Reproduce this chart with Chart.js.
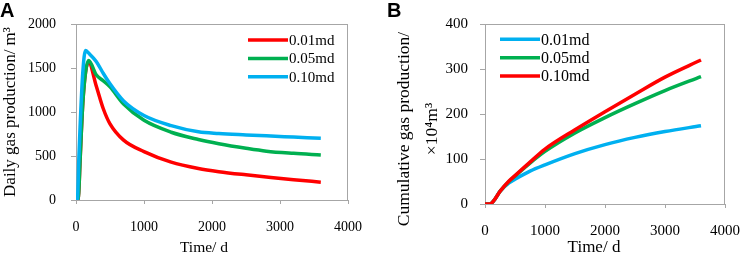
<!DOCTYPE html>
<html>
<head>
<meta charset="utf-8">
<script src="https://cdn.jsdelivr.net/npm/chart.js@4"></script>
<style>
  body { margin: 0; background: #fff; }
  .panel { position: absolute; top: 0; width: 377px; height: 257px; }
</style>
</head>
<body>
<div class="panel" style="left:0"><canvas id="chartA" width="377" height="257"></canvas></div>
<div class="panel" style="left:377px"><canvas id="chartB" width="377" height="257"></canvas></div>
<script>
// Panel A: daily gas production (m3) against time (d)
const daysA = [0, 20, 40, 60, 100, 140, 185, 300, 400, 500, 700, 1000, 1400, 1800, 2100, 2500, 2800, 3200, 3600];
const dailyK001 = [0, 0, 80, 450, 1100, 1450, 1565, 1290, 1040, 865, 680, 550, 430, 358, 322, 286, 262, 231, 203];
const dailyK005 = [0, 0, 80, 450, 1100, 1450, 1585, 1420, 1355, 1285, 1090, 905, 770, 688, 640, 588, 555, 530, 511];
const dailyK010 = [0, 0, 430, 830, 1450, 1700, 1670, 1572, 1440, 1320, 1125, 960, 845, 775, 756, 740, 729, 715, 701];

// Panel B: cumulative gas production (x10^4 m3) against time (d)
const daysB = [0, 80, 150, 250, 400, 500, 750, 1000, 1500, 2000, 2500, 3000, 3600];
const cumK001 = [0, 0, 8, 28, 47, 55, 73, 87, 112, 132, 148, 161, 174];
const cumK005 = [0, 0, 8, 28, 50, 62, 91, 117, 158, 192, 223, 252, 283];
const cumK010 = [0, 0, 8, 28, 51, 63, 93, 122, 165, 205, 244, 282, 320];

const seriesLabels = ['0.01md', '0.05md', '0.10md'];
const xTicksMax = 4000;

const RED = '#ff0000';
const GREEN = '#00b050';
const BLUE = '#00b0f0';
const frameColor = '#a6a6a6';
const serif = '"Liberation Serif", "Times New Roman", serif';

function lineDataset(label, xs, ys, color, order) {
  return {
    label: label,
    data: xs.map((x, i) => ({ x: x, y: ys[i] })),
    borderColor: color,
    borderWidth: 3.5,
    pointRadius: 0,
    fill: false,
    cubicInterpolationMode: 'monotone',
    order: order
  };
}

// frame, panel letter, axis titles and the in-plot legend
const decor = {
  id: 'decor',
  beforeDatasetsDraw(chart) {
    const { ctx, chartArea: a } = chart;
    ctx.save();
    ctx.strokeStyle = frameColor;
    ctx.lineWidth = 1;
    ctx.strokeRect(a.left + 0.5, a.top + 0.5, a.right - a.left - 1, a.bottom - a.top);
    ctx.restore();
  },
  afterDraw(chart, args, o) {
    const ctx = chart.ctx;
    ctx.save();
    ctx.fillStyle = '#000';

    ctx.font = 'bold 20px "Liberation Sans", Arial, sans-serif';
    ctx.textBaseline = 'alphabetic';
    ctx.textAlign = 'left';
    ctx.fillText(o.letter, o.letterX, 17);

    // y title (rotated, may have two lines)
    ctx.font = o.yTitleSize + 'px ' + serif;
    ctx.textAlign = 'center';
    ctx.textBaseline = 'middle';
    o.yTitle.forEach((line, i) => {
      ctx.save();
      ctx.translate(o.yTitleX[i], o.yTitleY);
      ctx.rotate(-Math.PI / 2);
      ctx.fillText(line, 0, 0);
      ctx.restore();
    });

    // x title
    ctx.font = o.xTitleSize + 'px ' + serif;
    ctx.fillText(o.xTitle, o.xTitleX, o.xTitleY);

    // legend
    ctx.font = o.legendSize + 'px ' + serif;
    ctx.textAlign = 'left';
    chart.data.datasets.forEach((ds, i) => {
      const y = o.legendY + i * o.legendGap;
      ctx.strokeStyle = ds.borderColor;
      ctx.lineWidth = 3.5;
      ctx.beginPath();
      ctx.moveTo(o.legendX, y);
      ctx.lineTo(o.legendX + 40, y);
      ctx.stroke();
      ctx.fillText(ds.label, o.legendX + 41, y + 1);
    });
    ctx.restore();
  }
};

function panelOptions(p) {
  return {
    responsive: false,
    animation: false,
    events: [],
    layout: { padding: { top: 24, right: p.padRight, left: 0, bottom: 0 } },
    plugins: {
      legend: { display: false },
      tooltip: { enabled: false },
      decor: p.decor
    },
    scales: {
      x: {
        type: 'linear',
        min: 0,
        max: xTicksMax,
        ticks: {
          stepSize: 1000,
          color: '#000',
          padding: p.xPad,
          maxRotation: 0,
          font: { family: serif, size: p.tickSize },
          callback: v => String(v)
        },
        grid: { drawOnChartArea: false, tickLength: 4, color: frameColor },
        border: { display: false },
        afterFit: s => { s.height = p.xHeight; }
      },
      y: {
        min: 0,
        max: p.yMax,
        ticks: {
          stepSize: p.yStep,
          color: '#000',
          padding: p.yPad,
          font: { family: serif, size: p.tickSize },
          callback: v => String(v)
        },
        grid: { drawOnChartArea: false, tickLength: 5, color: frameColor },
        border: { display: false },
        afterFit: s => { s.width = p.yWidth; }
      }
    }
  };
}

new Chart(document.getElementById('chartA'), {
  type: 'line',
  data: {
    datasets: [
      lineDataset(seriesLabels[0], daysA, dailyK001, RED, 3),
      lineDataset(seriesLabels[1], daysA, dailyK005, GREEN, 2),
      lineDataset(seriesLabels[2], daysA, dailyK010, BLUE, 1)
    ]
  },
  options: panelOptions({
    padRight: 25, yWidth: 76, xHeight: 57, yMax: 2000, yStep: 500,
    tickSize: 14, xPad: 15, yPad: 15,
    decor: {
      letter: 'A', letterX: 0,
      yTitle: ['Daily gas production/ m\u00b3'], yTitleX: [11], yTitleY: 112, yTitleSize: 17,
      xTitle: 'Time/ d', xTitleX: 204, xTitleY: 248, xTitleSize: 15.5,
      legendX: 248, legendY: 40, legendGap: 18.4, legendSize: 15
    }
  }),
  plugins: [decor]
});

new Chart(document.getElementById('chartB'), {
  type: 'line',
  data: {
    datasets: [
      lineDataset(seriesLabels[0], daysB, cumK001, BLUE, 3),
      lineDataset(seriesLabels[1], daysB, cumK005, GREEN, 2),
      lineDataset(seriesLabels[2], daysB, cumK010, RED, 1)
    ]
  },
  options: panelOptions({
    padRight: 16, yWidth: 108, xHeight: 53, yMax: 400, yStep: 100,
    tickSize: 15, xPad: 14, yPad: 12,
    decor: {
      letter: 'B', letterX: 10,
      yTitle: ['Cumulative gas production/', '\u00d710\u2074m\u00b3'], yTitleX: [27, 55], yTitleY: 129, yTitleSize: 17.5,
      xTitle: 'Time/ d', xTitleX: 217, xTitleY: 248, xTitleSize: 17,
      legendX: 123, legendY: 39.3, legendGap: 18.4, legendSize: 16
    }
  }),
  plugins: [decor]
});
</script>
</body>
</html>
